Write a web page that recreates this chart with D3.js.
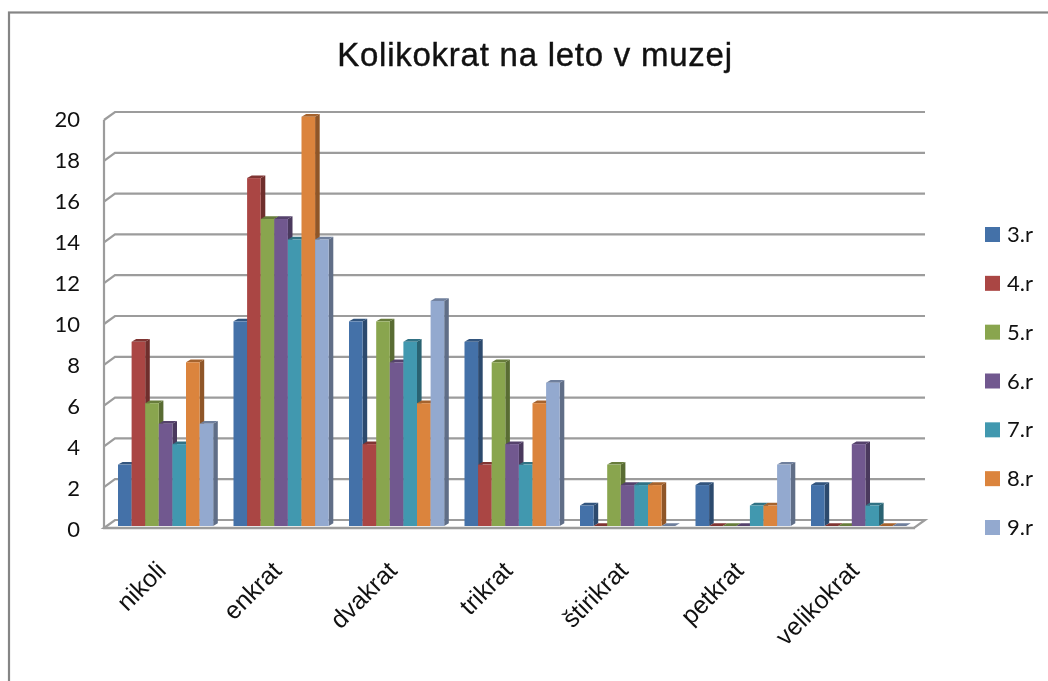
<!DOCTYPE html>
<html><head><meta charset="utf-8">
<script src="https://cdn.jsdelivr.net/npm/d3@7"></script>
<style>html,body{margin:0;padding:0;background:#fff;overflow:hidden}svg{display:block;filter:blur(0.45px)}text{font-family:"Liberation Sans",Arial,sans-serif;fill:#111}.cal{font-family:Lato,sans-serif}</style>
</head><body><svg id="c" width="1048" height="681"></svg>
<script>
const title = "Kolikokrat na leto v muzej";
const categories = ["nikoli","enkrat","dvakrat","trikrat","štirikrat","petkrat","velikokrat"];
const seriesNames = ["3.r","4.r","5.r","6.r","7.r","8.r","9.r"];
const r3 = [3,10,10,9,1,2,2];
const r4 = [9,17,4,3,0,0,0];
const r5 = [6,15,10,8,3,0,0];
const r6 = [5,15,8,4,2,0,4];
const r7 = [4,14,9,3,2,1,1];
const r8 = [8,20,6,6,2,1,0];
const r9 = [5,14,11,7,0,3,0];
const seriesValues = [r3,r4,r5,r6,r7,r8,r9];
const colors = ["#4471a8","#aa4644","#89a54e","#71588f","#4198af","#db843d","#93a9cf"];
const yTicks = d3.range(0,21,2);

const svg = d3.select("#c");
svg.append("rect").attr("x",9).attr("y",12.5).attr("width",1060).attr("height",700)
  .attr("fill","#fff").attr("stroke","#858585").attr("stroke-width",2.2);

const dxW=11, dyW=8;
const y = d3.scaleLinear().domain([0,20]).range([528,120]);
const yBar = d3.scaleLinear().domain([0,20]).range([526,116.7]);
const x0 = d3.scaleBand().domain(categories).range([107.7,107.7+115.5*7]);
const barW = 13.6;
const groupInset = 10.3;
const grid="#9c9c9c";
const g=svg.append("g");
yTicks.forEach(t=>{
  if(t>0) g.append("polyline").attr("points",`104,${y(t)} ${104+dxW},${y(t)-dyW} 925,${y(t)-dyW}`)
    .attr("fill","none").attr("stroke",grid).attr("stroke-width",2.2);
});
g.append("polygon").attr("points",`104,528 ${104+dxW},520 925,520 914,528`)
  .attr("fill","#fff").attr("stroke",grid).attr("stroke-width",2.2);
g.append("line").attr("x1",104).attr("x2",104).attr("y1",y(20)).attr("y2",528)
  .attr("stroke",grid).attr("stroke-width",2.2);
g.append("line").attr("x1",103).attr("x2",915).attr("y1",528).attr("y2",528)
  .attr("stroke",grid).attr("stroke-width",2.6);

const dx=4.6, dy=2.7;
categories.forEach((c,i)=>{
  const left = x0(c)+groupInset;
  seriesValues.forEach((vals,s)=>{
    const v=vals[i], bx=left+s*barW, top=yBar(v), base=yBar(0);
    const col=d3.color(colors[s]);
    const bg=g.append("g");
    bg.append("polygon").attr("points",`${bx+barW},${top} ${bx+barW+dx},${top-dy} ${bx+barW+dx},${base-dy} ${bx+barW},${base}`)
      .attr("fill",col.darker(1.2));
    bg.append("polygon").attr("points",`${bx},${top} ${bx+dx},${top-dy} ${bx+barW+dx},${top-dy} ${bx+barW},${top}`)
      .attr("fill",col.darker(0.8));
    if(v>0) bg.append("rect").attr("x",bx).attr("y",top).attr("width",barW).attr("height",base-top).attr("fill",colors[s]);
  });
});

const yl=d3.scaleLinear().domain([0,20]).range([529,119]);
yTicks.forEach(t=>{
  svg.append("text").attr("class","cal").attr("x",80).attr("y",yl(t)+8).attr("text-anchor","end").attr("font-size",22).text(t);
});
categories.forEach(c=>{
  const cx=x0(c)+115.5/2+2;
  svg.append("text").attr("transform",`translate(${cx},572) rotate(-45)`).attr("text-anchor","end").attr("font-size",25).text(c);
});
svg.append("text").attr("x",535).attr("y",66).attr("text-anchor","middle").attr("font-size",33).attr("letter-spacing",0.75).attr("stroke","#111").attr("stroke-width",0.4).text(title);
const ly=d3.scalePoint().domain(seriesNames).range([234,527]);
seriesNames.forEach((n,s)=>{
  svg.append("rect").attr("x",985).attr("y",ly(n)-7).attr("width",15).attr("height",15).attr("fill",colors[s]);
  svg.append("text").attr("class","cal").attr("x",1007).attr("y",ly(n)+8).attr("font-size",22).text(n);
});
</script></body></html>
